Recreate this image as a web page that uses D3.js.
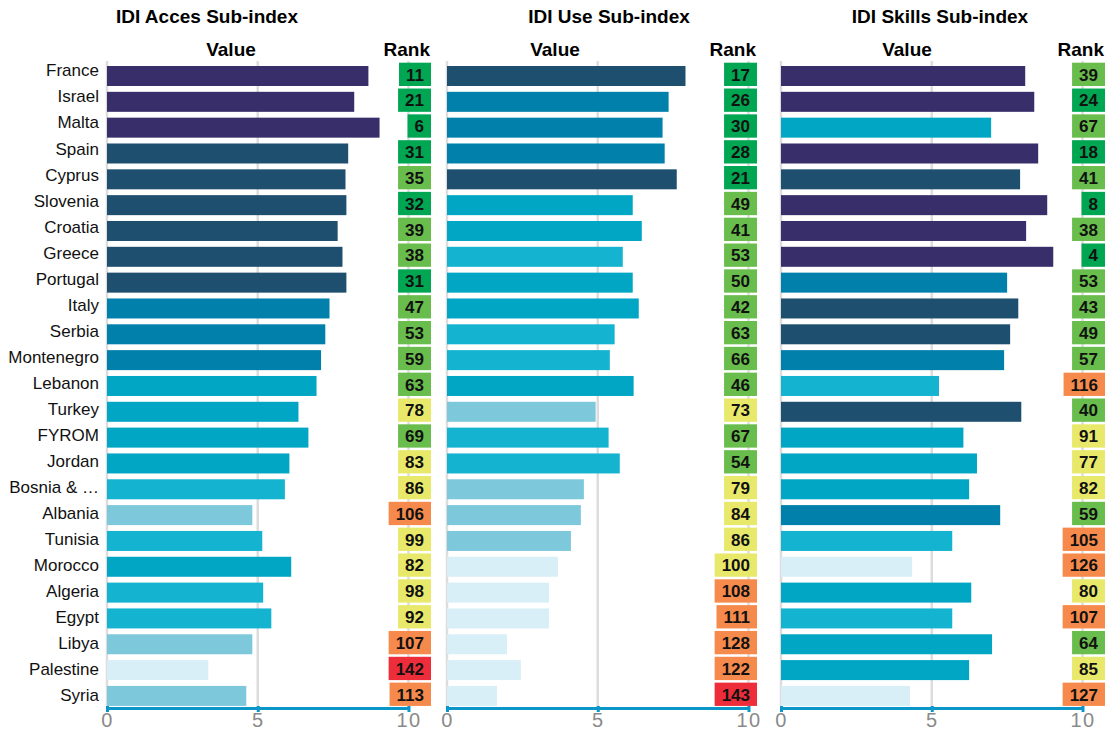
<!DOCTYPE html>
<html>
<head>
<meta charset="utf-8">
<script src="https://cdn.jsdelivr.net/npm/d3@7"></script>
<style>
  body { margin: 0; background: #fff; }
  svg { font-family: "Liberation Sans", Arial, Helvetica, sans-serif; }
</style>
</head>
<body>
<div id="chart"></div>
<script>
// data
var countries = ["France", "Israel", "Malta", "Spain", "Cyprus", "Slovenia", "Croatia", "Greece",
  "Portugal", "Italy", "Serbia", "Montenegro", "Lebanon", "Turkey", "FYROM", "Jordan",
  "Bosnia & \u2026", "Albania", "Tunisia", "Morocco", "Algeria", "Egypt", "Libya", "Palestine", "Syria"];

var accessValues = [8.67, 8.2, 9.04, 8.0, 7.91, 7.94, 7.65, 7.81, 7.94, 7.38, 7.24, 7.1, 6.95,
  6.35, 6.68, 6.05, 5.9, 4.82, 5.15, 6.11, 5.18, 5.45, 4.82, 3.36, 4.62];
var accessRanks = [11, 21, 6, 31, 35, 32, 39, 38, 31, 47, 53, 59, 63, 78, 69, 83, 86, 106, 99, 82, 98, 92, 107, 142, 113];

var useValues = [7.91, 7.35, 7.15, 7.22, 7.62, 6.16, 6.46, 5.83, 6.16, 6.36, 5.56, 5.4, 6.19,
  4.93, 5.36, 5.73, 4.54, 4.44, 4.11, 3.68, 3.38, 3.38, 1.99, 2.45, 1.66];
var useRanks = [17, 26, 30, 28, 21, 49, 41, 53, 50, 42, 63, 66, 46, 73, 67, 54, 79, 84, 86, 100, 108, 111, 128, 122, 143];

var skillsValues = [8.1, 8.4, 6.97, 8.53, 7.93, 8.83, 8.13, 9.03, 7.5, 7.87, 7.6, 7.4, 5.24,
  7.97, 6.05, 6.5, 6.24, 7.27, 5.68, 4.35, 6.31, 5.68, 7.0, 6.24, 4.28];
var skillsRanks = [39, 24, 67, 18, 41, 8, 38, 4, 53, 43, 49, 57, 116, 40, 91, 77, 82, 59, 105, 126, 80, 107, 64, 85, 127];

var titles = ["IDI Acces Sub-index", "IDI Use Sub-index", "IDI Skills Sub-index"];
var tickValues = [0, 5, 10];

// layout of the three panels (pixel positions only)
var panels = [
  {title: titles[0], values: accessValues, ranks: accessRanks, x0: 107, titleX: 207, valueX: 231, rankRight: 431, lowCut: 4},
  {title: titles[1], values: useValues, ranks: useRanks, x0: 447, titleX: 609, valueX: 555, rankRight: 757, lowCut: 4},
  {title: titles[2], values: skillsValues, ranks: skillsRanks, x0: 781, titleX: 940, valueX: 907, rankRight: 1105, lowCut: 4.5}
];

var width = 1113, height = 731;
var panelWidth = 301.5;
var barColors = ["#d8eff7", "#7ec8dc", "#14b3d0", "#00a6c3", "#0080ab", "#1f4f6e", "#382e6a"];
var rankColor = d3.scaleThreshold()
  .domain([34, 72, 101, 140])
  .range(["#00a651", "#69bd4c", "#e8e96b", "#f68a4c", "#ee2d3b"]);

var svg = d3.select("#chart").append("svg").attr("width", width).attr("height", height);

// rows
var y = d3.scaleBand().domain(d3.range(countries.length)).range([62.7, 62.7 + 25.83 * countries.length]).paddingInner(0);
var yLabel = d3.scalePoint().domain(d3.range(countries.length)).range([70.5, 695]);

svg.append("g")
  .selectAll("text")
  .data(countries)
  .join("text")
    .attr("x", 99)
    .attr("y", (d, i) => yLabel(i))
    .attr("dy", "0.35em")
    .attr("text-anchor", "end")
    .attr("font-size", 17)
    .attr("fill", "#111")
    .text(d => d);

panels.forEach(function(p){
  var x = d3.scaleLinear().domain([0, 10]).range([p.x0, p.x0 + panelWidth]);
  var color = d3.scaleThreshold().domain([p.lowCut, 5, 6, 7.05, 7.55, 8.05]).range(barColors);
  var g = svg.append("g");

  g.append("text")
    .attr("x", p.titleX).attr("y", 23)
    .attr("text-anchor", "middle")
    .attr("font-size", 19).attr("font-weight", "bold")
    .text(p.title);

  g.append("text")
    .attr("x", p.valueX).attr("y", 56)
    .attr("text-anchor", "middle")
    .attr("font-size", 19).attr("font-weight", "bold")
    .text("Value");

  g.append("text")
    .attr("x", p.rankRight - 1).attr("y", 56)
    .attr("text-anchor", "end")
    .attr("font-size", 19).attr("font-weight", "bold")
    .text("Rank");

  // grid
  g.append("g")
    .selectAll("line")
    .data(tickValues)
    .join("line")
      .attr("x1", d => x(d)).attr("x2", d => x(d))
      .attr("y1", 61).attr("y2", 707)
      .attr("stroke", "#dddddd")
      .attr("stroke-width", 2.5);

  // bars
  g.append("g")
    .selectAll("rect")
    .data(p.values)
    .join("rect")
      .attr("x", x(0))
      .attr("y", (d, i) => y(i) + 3.3)
      .attr("width", d => x(d) - x(0))
      .attr("height", 20)
      .attr("fill", d => color(d));

  // rank boxes
  var cell = g.append("g")
    .selectAll("g")
    .data(p.ranks)
    .join("g");

  cell.append("rect")
    .attr("y", (d, i) => y(i))
    .attr("height", 23.3)
    .attr("fill", d => rankColor(d));

  cell.append("text")
    .attr("y", (d, i) => y(i) + 11.8)
    .attr("dy", "0.36em")
    .attr("text-anchor", "middle")
    .attr("font-size", 17).attr("font-weight", "bold")
    .attr("fill", "#111")
    .text(d => d);

  cell.each(function(){
    var c = d3.select(this);
    var w = c.select("text").node().getComputedTextLength() + 14;
    c.select("rect").attr("x", p.rankRight - w).attr("width", w);
    c.select("text").attr("x", p.rankRight - w / 2);
  });

  // axis
  var axis = g.append("g")
    .attr("transform", "translate(0,708)")
    .call(d3.axisBottom(x).tickValues(tickValues).tickSizeInner(4).tickSizeOuter(0));

  axis.select(".domain").attr("stroke", "#0a96c8").attr("stroke-width", 3);
  axis.selectAll(".tick line").attr("stroke", "#0a96c8").attr("stroke-width", 3).attr("y1", -2);
  axis.selectAll(".tick text")
    .attr("y", 18.5)
    .attr("dy", null)
    .attr("font-size", 20)
    .attr("font-family", "'Liberation Sans', Arial, sans-serif")
    .attr("letter-spacing", 1.5)
    .attr("fill", "#8a8a8a");
});
</script>
</body>
</html>
